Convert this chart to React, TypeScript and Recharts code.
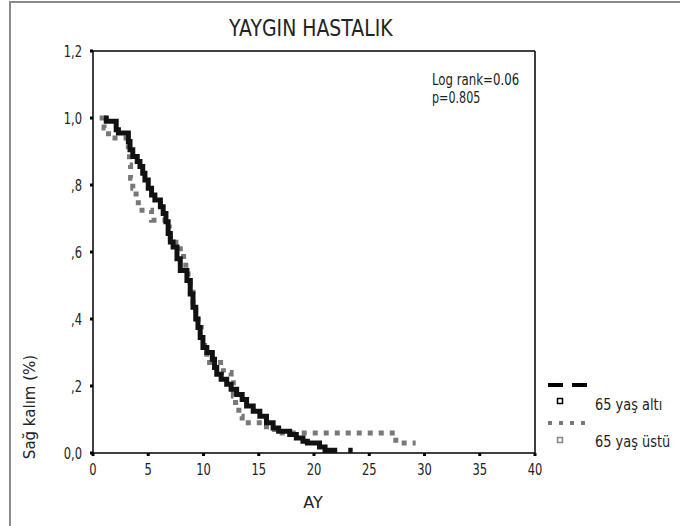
import React from 'react'
import { LineChart, Line, XAxis, YAxis, ReferenceLine } from 'recharts'

// Kaplan-Meier steps: time in months, survival fraction
const altiTimes = [1.0, 1.2, 2.1, 2.3, 3.2, 3.35, 3.6, 4.0, 4.25, 4.5, 4.7, 5.0, 5.3, 5.6, 6.1, 6.35, 6.6, 6.8, 7.0, 7.25, 7.6, 7.9, 8.5, 8.8, 9.05, 9.3, 9.5, 9.7, 9.95, 10.3, 10.8, 11.0, 11.2, 11.6, 12.1, 12.5, 13.0, 13.5, 13.9, 14.5, 15.1, 15.7, 16.3, 16.8, 17.8, 18.4, 19.0, 19.4, 20.5, 21.0, 22.1, 22.6, 23.1, 23.5]
const altiSurv = [1.0, 0.99, 0.965, 0.955, 0.93, 0.905, 0.885, 0.87, 0.855, 0.835, 0.815, 0.79, 0.77, 0.755, 0.735, 0.715, 0.69, 0.655, 0.63, 0.615, 0.58, 0.545, 0.515, 0.475, 0.435, 0.4, 0.375, 0.345, 0.315, 0.3, 0.28, 0.255, 0.235, 0.22, 0.205, 0.19, 0.175, 0.16, 0.14, 0.125, 0.11, 0.09, 0.075, 0.065, 0.055, 0.045, 0.035, 0.03, 0.018, 0.008, 0.008, null, 0.008, 0.008]

const ustuTimes = [0.6, 1.0, 1.4, 3.0, 3.2, 3.3, 3.4, 3.6, 3.9, 4.1, 5.3, 6.9, 7.0, 7.5, 7.9, 8.2, 8.4, 8.6, 8.8, 9.05, 9.3, 9.5, 9.8, 10.1, 10.3, 11.8, 12.5, 12.7, 12.9, 13.2, 13.5, 15.7, 16.8, 27.4, 29.2]
const ustuSurv = [1.0, 0.97, 0.94, 0.93, 0.9, 0.86, 0.82, 0.79, 0.76, 0.725, 0.695, 0.67, 0.64, 0.62, 0.6, 0.575, 0.545, 0.515, 0.48, 0.45, 0.41, 0.375, 0.345, 0.315, 0.27, 0.24, 0.21, 0.17, 0.14, 0.11, 0.09, 0.07, 0.06, 0.03, 0.03]

const xTicks = [0, 5, 10, 15, 20, 25, 30, 35, 40]
const yTicks = [0, 0.2, 0.4, 0.6, 0.8, 1.0, 1.2]
const yTickLabels = ['0,0', ',2', ',4', ',6', ',8', '1,0', '1,2']

const seriesNames = ['65 yaş altı', '65 yaş üstü']

const altiData = altiTimes.map((t, i) => ({ t, s: altiSurv[i] }))
const ustuData = ustuTimes.map((t, i) => ({ t, s: ustuSurv[i] }))

const FONT = "'DejaVu Sans', sans-serif"
const NARROW = 0.72

// squeezed text, the original uses a condensed face we don't have
function Narrow({ x, y, sx, size, children, anchor }: any) {
  return (
    <text transform={`translate(${x},${y}) scale(${sx},1)`} fontSize={size} textAnchor={anchor ?? 'start'}>
      {children}
    </text>
  )
}

function XTick(props: any) {
  const { x, y, payload } = props
  return (
    <g transform={`translate(${x},${y})`}>
      <text transform={`scale(${NARROW},1)`} textAnchor="middle" dy="0.71em" fontSize={16} fill="#222" fontFamily={FONT}>
        {payload.value}
      </text>
    </g>
  )
}

function YTick(props: any) {
  const { x, y, payload } = props
  const i = yTicks.findIndex((v) => Math.abs(v - payload.value) < 1e-6)
  return (
    <g transform={`translate(${x},${y})`}>
      <text transform={`scale(${NARROW},1)`} textAnchor="end" dy="0.355em" fontSize={16} fill="#222" fontFamily={FONT}>
        {yTickLabels[i]}
      </text>
    </g>
  )
}

export default function App() {
  return (
    <div style={{ position: 'absolute', left: 0, top: 0, width: 680, height: 526, background: '#fff', fontFamily: FONT }}>
      <div style={{ position: 'absolute', left: 9, top: 1, width: 671, height: 525, borderLeft: '2px solid #8a8a8a', borderTop: '2px solid #8a8a8a' }} />
      <LineChart width={680} height={526} margin={{ top: 51, right: 145, left: 0, bottom: 0 }} style={{ position: 'absolute', left: 0, top: 0 }}>
        <XAxis
          dataKey="t"
          type="number"
          domain={[0, 40]}
          ticks={xTicks}
          allowDataOverflow
          height={73}
          axisLine={{ stroke: '#000', strokeWidth: 1.5 }}
          tickLine={{ stroke: '#000', strokeWidth: 3 }}
          tickSize={3}
          tickMargin={8}
          tick={<XTick />}
        />
        <YAxis
          type="number"
          domain={[0, 1.2]}
          ticks={yTicks}
          allowDataOverflow
          width={93}
          axisLine={{ stroke: '#000', strokeWidth: 1.5 }}
          tickLine={{ stroke: '#000', strokeWidth: 3 }}
          tickSize={3}
          tickMargin={8}
          tick={<YTick />}
        />
        <ReferenceLine y={1.2} stroke="#000" strokeWidth={1.5} />
        <ReferenceLine x={40} stroke="#000" strokeWidth={1.5} />
        <Line
          data={ustuData}
          dataKey="s"
          type="stepAfter"
          stroke="#787878"
          strokeWidth={5}
          strokeDasharray="5 6"
          dot={false}
          isAnimationActive={false}
          name={seriesNames[1]}
        />
        <Line
          data={altiData}
          dataKey="s"
          type="stepAfter"
          stroke="#111"
          strokeWidth={5}
          dot={false}
          isAnimationActive={false}
          name={seriesNames[0]}
        />
      </LineChart>
      <svg width={680} height={526} style={{ position: 'absolute', left: 0, top: 0, pointerEvents: 'none' }} fontFamily={FONT} fill="#222">
        <Narrow x={229} y={36} sx={0.82} size={23}>YAYGIN HASTALIK</Narrow>
        <Narrow x={432} y={85} sx={0.76} size={15.5}>Log rank=0.06</Narrow>
        <Narrow x={432} y={103} sx={0.72} size={15.5}>p=0.805</Narrow>
        <Narrow x={313} y={508} sx={1} size={16} anchor="middle">AY</Narrow>
        <text x={35} y={407} textAnchor="middle" fontSize={15} transform="rotate(-90, 35, 407)">Sağ kalım (%)</text>
        <g transform="translate(548, 370)">
          <line x1={0} y1={15} x2={40} y2={15} stroke="#000" strokeWidth={4} strokeDasharray="15 9" />
          <rect x={9.5} y={28.5} width={5} height={5} fill="#fff" stroke="#000" strokeWidth={1.5} />
          <Narrow x={47} y={40} sx={0.81} size={16}>{seriesNames[0]}</Narrow>
          <line x1={0} y1={53} x2={40} y2={53} stroke="#787878" strokeWidth={4} strokeDasharray="4 7" />
          <rect x={9.5} y={67.5} width={5} height={5} fill="#fff" stroke="#888" strokeWidth={1.5} />
          <Narrow x={47} y={77} sx={0.81} size={16}>{seriesNames[1]}</Narrow>
        </g>
      </svg>
    </div>
  )
}
